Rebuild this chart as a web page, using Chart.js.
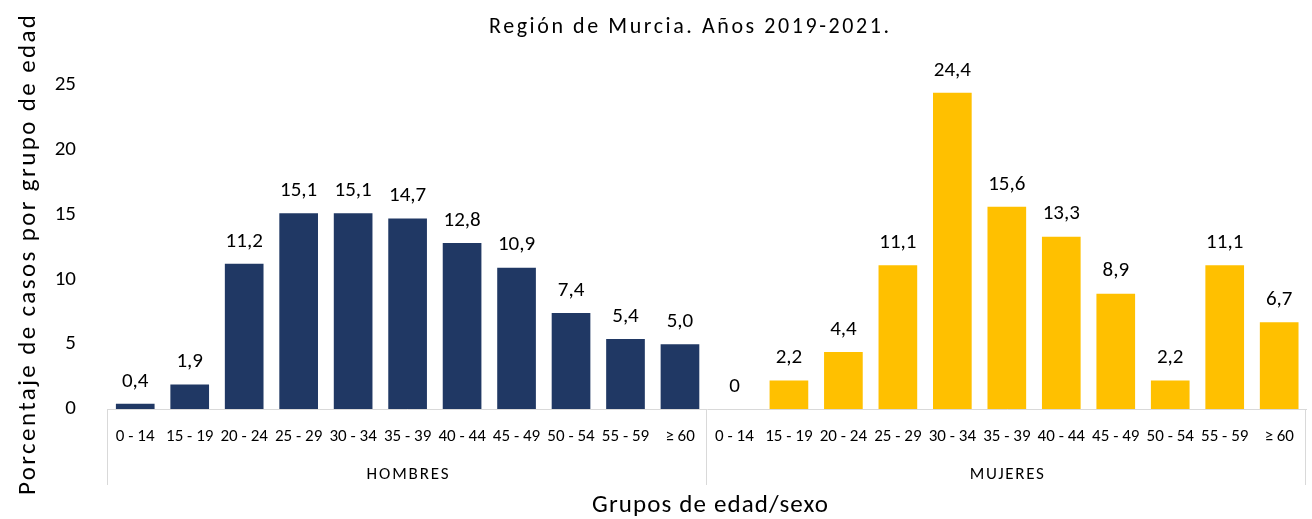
<!DOCTYPE html>
<html>
<head>
<meta charset="utf-8">
<script src="https://cdn.jsdelivr.net/npm/chart.js@4.4.1/dist/chart.umd.min.js"></script>
<style>
  html, body { margin: 0; padding: 0; background: #fff; }
  #wrap { width: 1312px; height: 519px; }
</style>
</head>
<body>
<div id="wrap"><canvas id="myChart"></canvas></div>
<script>
const ageGroups = ["0 - 14", "15 - 19", "20 - 24", "25 - 29", "30 - 34", "35 - 39", "40 - 44", "45 - 49", "50 - 54", "55 - 59", "\u2265 60"];
const sexGroups = ["HOMBRES", "MUJERES"];
const hombres = [0.4, 1.9, 11.2, 15.1, 15.1, 14.7, 12.8, 10.9, 7.4, 5.4, 5.0];
const mujeres = [0, 2.2, 4.4, 11.1, 24.4, 15.6, 13.3, 8.9, 2.2, 11.1, 6.7];

const titleText = "Región de Murcia. Años 2019-2021.";
const xTitle = "Grupos de edad/sexo";
const yTitle = "Porcentaje de casos por grupo de edad";

var chartColors = {
  navy: "#203864",
  yellow: "#FFC000",
};

const labels = ageGroups.concat(ageGroups);
const blanks = Array(ageGroups.length).fill(null);

const fontMain = "Carlito, Calibri, Lato, sans-serif";

function fmt(v) {
  if (v === 0) return "0";
  return v.toFixed(1).replace(".", ",");
}

// text drawn with extra spacing, like the Excel export
function spacedText(ctx, text, x, y, size, width) {
  ctx.font = size + "px " + fontMain;
  ctx.letterSpacing = "0px";
  const w = ctx.measureText(text).width;
  const sp = Math.max(0, (width - w) / (text.length - 1));
  ctx.letterSpacing = sp + "px";
  ctx.textAlign = "left";
  ctx.textBaseline = "middle";
  ctx.fillText(text, x - width / 2, y);
  ctx.letterSpacing = "0px";
}

// value labels above bars
const valueLabels = {
  id: "valueLabels",
  afterDatasetsDraw: (chart) => {
    const { ctx } = chart;
    ctx.save();
    ctx.font = "21px " + fontMain;
    ctx.fillStyle = "#000";
    ctx.textAlign = "center";
    ctx.textBaseline = "bottom";
    chart.data.datasets.forEach((ds, di) => {
      chart.getDatasetMeta(di).data.forEach((bar, i) => {
        if (ds.data[i] === null) return;
        ctx.fillText(fmt(ds.data[i]), bar.x, bar.y - 12);
      });
    });
    ctx.restore();
  },
};

// group separators, HOMBRES / MUJERES labels and the titles
const groupAxis = {
  id: "groupAxis",
  afterDraw: (chart) => {
    const { ctx } = chart;
    const x = chart.scales.x;
    const half = (x.getPixelForValue(1) - x.getPixelForValue(0)) / 2;
    const top = chart.chartArea.bottom;
    const n = ageGroups.length;
    const edges = [x.getPixelForValue(0) - half, x.getPixelForValue(n) - half, x.getPixelForValue(2 * n - 1) + half];
    ctx.save();
    ctx.strokeStyle = "#d9d9d9";
    ctx.lineWidth = 1;
    edges.forEach((e) => {
      ctx.beginPath();
      ctx.moveTo(Math.round(e) - 0.5, top);
      ctx.lineTo(Math.round(e) - 0.5, top + 76);
      ctx.stroke();
    });
    ctx.fillStyle = "#000";
    sexGroups.forEach((g, k) => {
      spacedText(ctx, g, (edges[k] + edges[k + 1]) / 2, top + 66, 17, g === "HOMBRES" ? 82 : 74);
    });

    spacedText(ctx, titleText, 689, 27, 22, 400);
    spacedText(ctx, xTitle, 710, 506, 25, 236);
    ctx.translate(29, 255);
    ctx.rotate(-Math.PI / 2);
    spacedText(ctx, yTitle, 0, 0, 25, 480);
    ctx.restore();
  },
};

const data = {
  labels: labels,
  datasets: [
    {
      label: sexGroups[0],
      data: hombres.concat(blanks),
      backgroundColor: chartColors.navy,
    },
    {
      label: sexGroups[1],
      data: blanks.concat(mujeres),
      backgroundColor: chartColors.yellow,
    },
  ],
};

const config = {
  type: "bar",
  data: data,
  plugins: [valueLabels, groupAxis],
  options: {
    responsive: true,
    maintainAspectRatio: false,
    animation: false,
    layout: { padding: { left: 0, right: 2, top: 85, bottom: 0 } },
    datasets: {
      bar: { grouped: false, barPercentage: 0.71, categoryPercentage: 1 },
    },
    plugins: {
      legend: { display: false },
      tooltip: { enabled: false },
      title: { display: false },
    },
    scales: {
      x: {
        grid: { display: false, drawTicks: false },
        border: { display: true, color: "#d9d9d9" },
        ticks: {
          autoSkip: false,
          maxRotation: 0,
          minRotation: 0,
          padding: 18,
          color: "#000",
          font: { family: fontMain, size: 17 },
        },
        afterFit: (s) => { s.height = 110; },
      },
      y: {
        min: 0,
        max: 25,
        grid: { display: false },
        border: { display: false },
        ticks: {
          stepSize: 5,
          padding: 24,
          color: "#000",
          font: { family: fontMain, size: 21 },
        },
        afterFit: (s) => { s.width = 108; },
      },
    },
  },
};
var myChart = new Chart(document.getElementById("myChart"), config);
</script>
</body>
</html>
